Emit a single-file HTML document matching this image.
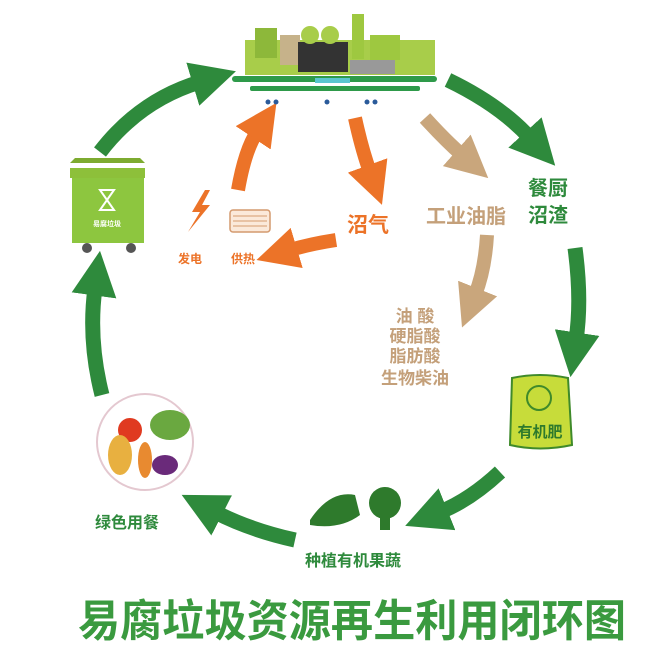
<!DOCTYPE html>
<html><head><meta charset="utf-8"><style>
html,body{margin:0;padding:0;background:#fff;width:670px;height:660px;overflow:hidden}
svg{display:block}
text{font-family:"Liberation Sans","Noto Sans CJK SC",sans-serif;font-weight:bold}
</style></head><body>
<svg width="670" height="660" viewBox="0 0 670 660">
<defs>
<marker id="g" markerWidth="3" markerHeight="3" refX="0.5" refY="1.5" orient="auto" markerUnits="strokeWidth"><path d="M0,0 L3,1.5 L0,3 Z" fill="#2e8a3c"/></marker>
<marker id="o" markerWidth="3" markerHeight="3" refX="0.5" refY="1.5" orient="auto" markerUnits="strokeWidth"><path d="M0,0 L3,1.5 L0,3 Z" fill="#ec7328"/></marker>
<marker id="t" markerWidth="3" markerHeight="3" refX="0.5" refY="1.5" orient="auto" markerUnits="strokeWidth"><path d="M0,0 L3,1.5 L0,3 Z" fill="#c9a67c"/></marker>
</defs>
<g fill="none" stroke="#2e8a3c" stroke-width="15">
<path d="M100,152 Q140,100 200,82" marker-end="url(#g)"/>
<path d="M448,80 Q500,105 530,138" marker-end="url(#g)"/>
<path d="M575,248 Q582,300 576,340" marker-end="url(#g)"/>
<path d="M500,472 Q470,500 440,512" marker-end="url(#g)"/>
<path d="M295,540 Q250,530 215,512" marker-end="url(#g)"/>
<path d="M102,395 Q88,340 95,288" marker-end="url(#g)"/>
</g>
<g fill="none" stroke="#ec7328" stroke-width="14">
<path d="M238,190 Q245,150 257,132" marker-end="url(#o)"/>
<path d="M355,118 Q362,150 370,172" marker-end="url(#o)"/>
<path d="M336,240 Q310,244 290,250" marker-end="url(#o)"/>
</g>
<g fill="none" stroke="#c9a67c" stroke-width="14">
<path d="M425,118 Q445,140 462,155" marker-end="url(#t)"/>
<path d="M487,235 Q485,270 475,295" marker-end="url(#t)"/>
</g>
<!-- factory -->
<g>
<rect x="245" y="40" width="190" height="35" fill="#a8cd4a"/>
<rect x="255" y="28" width="22" height="30" fill="#8db83a"/>
<rect x="280" y="35" width="20" height="30" fill="#c6b28a"/>
<rect x="298" y="42" width="50" height="30" fill="#333"/>
<circle cx="310" cy="35" r="9" fill="#a8cd4a"/><circle cx="330" cy="35" r="9" fill="#a8cd4a"/>
<rect x="352" y="14" width="12" height="45" fill="#9ec840"/>
<rect x="370" y="35" width="30" height="25" fill="#9ec840"/>
<rect x="350" y="60" width="45" height="14" fill="#999"/>
<rect x="232" y="76" width="205" height="6" rx="3" fill="#2e9a4a"/>
<rect x="250" y="86" width="170" height="5" rx="2" fill="#2e9a4a"/>
<rect x="315" y="78" width="35" height="5" fill="#5bc5d0"/>
<g fill="#2a5a9a"><circle cx="268" cy="102" r="2.5"/><circle cx="276" cy="102" r="2.5"/><circle cx="327" cy="102" r="2.5"/><circle cx="367" cy="102" r="2.5"/><circle cx="375" cy="102" r="2.5"/></g>
</g>
<!-- bin -->
<g>
<path d="M70,163 L145,163 L140,158 L75,158 Z" fill="#7dab30"/>
<rect x="70" y="168" width="75" height="10" fill="#8dc03a"/>
<rect x="72" y="178" width="72" height="65" fill="#8dc63f"/>
<path d="M100,190 L114,190 L100,210 L114,210 Z" fill="none" stroke="#fff" stroke-width="2"/>
<text x="107" y="226" font-size="7" fill="#fff" text-anchor="middle">易腐垃圾</text>
<circle cx="87" cy="248" r="5" fill="#555"/><circle cx="131" cy="248" r="5" fill="#555"/>
</g>
<!-- power / heat -->
<path d="M205,190 L192,212 L200,212 L188,232 L210,205 L202,205 L210,190 Z" fill="#ec7328"/>
<rect x="230" y="210" width="40" height="22" rx="3" fill="#fbe9da" stroke="#d49a6f" stroke-width="1.5"/>
<g stroke="#d49a6f"><line x1="233" y1="216" x2="267" y2="216"/><line x1="233" y1="221" x2="267" y2="221"/><line x1="233" y1="226" x2="267" y2="226"/></g>
<text x="178" y="263" font-size="12" fill="#ec7328">发电</text>
<text x="231" y="263" font-size="12" fill="#ec7328">供热</text>
<text x="347" y="232" font-size="21" fill="#ec7328">沼气</text>
<text x="426" y="223" font-size="20" fill="#c4a07a">工业油脂</text>
<text x="528" y="195" font-size="20" fill="#2e8a3c">餐厨</text>
<text x="528" y="222" font-size="20" fill="#2e8a3c">沼渣</text>
<g font-size="17" fill="#c4a07a" text-anchor="middle">
<text x="415" y="322">油 酸</text><text x="415" y="342">硬脂酸</text><text x="415" y="362">脂肪酸</text><text x="415" y="384">生物柴油</text>
</g>
<!-- bag -->
<path d="M512,378 Q540,372 568,378 L572,445 Q540,452 510,445 Z" fill="#c7dc3a" stroke="#3f8a2a" stroke-width="2"/>
<circle cx="539" cy="398" r="12" fill="none" stroke="#3f8a2a" stroke-width="2"/>
<text x="540" y="437" font-size="15" fill="#2e7a2c" text-anchor="middle">有机肥</text>
<!-- plate -->
<circle cx="145" cy="442" r="48" fill="#fff" stroke="#e4c8d0" stroke-width="2"/>
<circle cx="130" cy="430" r="12" fill="#e03a20"/>
<ellipse cx="120" cy="455" rx="12" ry="20" fill="#e8b040"/>
<ellipse cx="170" cy="425" rx="20" ry="15" fill="#6aa840"/>
<ellipse cx="165" cy="465" rx="13" ry="10" fill="#6a2a7a"/>
<ellipse cx="145" cy="460" rx="7" ry="18" fill="#e88a30"/>
<text x="95" y="528" font-size="16" fill="#2e8a3c">绿色用餐</text>
<!-- veg -->
<path d="M310,520 Q330,490 355,495 L360,515 Q340,530 310,525 Z" fill="#2e7a2c"/>
<circle cx="385" cy="503" r="16" fill="#2e7a2c"/>
<rect x="380" y="515" width="10" height="15" fill="#2e7a2c"/>
<text x="305" y="566" font-size="16" fill="#2e8a3c">种植有机果蔬</text>
<text x="78" y="636" font-size="44" fill="#3a9a3f" textLength="548" lengthAdjust="spacingAndGlyphs">易腐垃圾资源再生利用闭环图</text>
</svg>
</body></html>
